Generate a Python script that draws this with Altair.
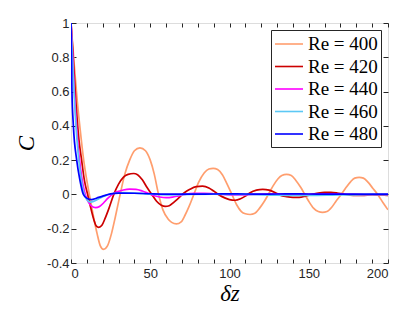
import altair as alt
import pandas as pd

# ---- data ----
labels = ["Re = 400", "Re = 420", "Re = 440", "Re = 460", "Re = 480"]
colors = ["#FF9E6E", "#CC0000", "#FF00FF", "#5CC8F5", "#0000FF"]

x400 = [0, 2, 4, 6, 8, 10, 12, 14, 16.5, 18.5, 20.5, 23, 25.5, 28, 31, 34, 37, 40, 43.5, 47, 50, 52.5,
        55, 58, 61, 63.5, 66.5, 69.5, 72, 74.5, 77.5, 80.5, 84, 87, 89.7, 92.5, 95.5, 98.5, 101.5,
        104.5, 107.5, 110, 113, 116, 119, 122, 124.5, 127.5, 130.5, 133, 136, 139, 142, 145, 147.5,
        150, 153, 156, 158.7, 161.5, 164.5, 167.5, 170.5, 173.5, 176.5, 179, 181.8, 184.5, 187.5,
        190.5, 193.5, 197, 200]
y400 = [1, 0.76, 0.54, 0.36, 0.2, 0.08, -0.02, -0.12, -0.23, -0.3, -0.32, -0.3, -0.23, -0.13, 0, 0.12,
        0.2, 0.255, 0.272, 0.255, 0.2, 0.12, 0.01, -0.09, -0.14, -0.163, -0.172, -0.16, -0.12, -0.07,
        0, 0.07, 0.125, 0.148, 0.152, 0.145, 0.115, 0.06, 0, -0.06, -0.1, -0.113, -0.117, -0.11,
        -0.08, -0.04, 0, 0.05, 0.09, 0.11, 0.117, 0.11, 0.08, 0.04, 0, -0.04, -0.08, -0.1, -0.105,
        -0.1, -0.075, -0.035, 0, 0.04, 0.075, 0.095, 0.1, 0.095, 0.07, 0.035, 0, -0.05, -0.09]

x420 = [0, 1, 3, 5, 6.7, 8.5, 10.5, 12.5, 14.5, 16, 17.5, 19.5, 21.5, 24, 27, 30, 33, 36, 39.5, 42, 45,
        48, 51, 54, 57, 59.5, 62, 65, 68, 71.5, 75, 79, 83, 87, 90, 93, 97, 100, 103.5, 107, 110, 113,
        117, 121, 125, 129, 132, 136, 140, 144, 148, 152, 156, 160, 164, 168, 172, 176, 180, 185, 190,
        195, 200]
y420 = [1, 0.86, 0.55, 0.32, 0.2, 0.08, 0, -0.08, -0.15, -0.185, -0.192, -0.18, -0.14, -0.08, 0, 0.06,
        0.1, 0.117, 0.122, 0.115, 0.085, 0.04, 0, -0.04, -0.063, -0.07, -0.066, -0.045, -0.02, 0.01,
        0.03, 0.045, 0.048, 0.038, 0.02, 0, -0.02, -0.03, -0.034, -0.025, -0.01, 0.01, 0.025, 0.03,
        0.025, 0.01, -0.005, -0.013, -0.017, -0.017, -0.01, 0, 0.008, 0.012, 0.012, 0.008, 0.001,
        -0.004, -0.006, -0.005, -0.003, -0.004, -0.005]

x440 = [0, 1, 2, 3, 4.5, 6, 7.5, 9, 11, 13, 15.5, 18, 20.5, 23, 26, 29, 33, 37, 41, 45, 49, 52, 56, 60,
        64, 68, 72, 78, 84, 90, 96, 102, 108, 115, 125, 135, 145, 155, 165, 175, 185, 200]
y440 = [1, 0.82, 0.62, 0.46, 0.28, 0.15, 0.06, 0, -0.045, -0.068, -0.077, -0.07, -0.05, -0.025, 0,
        0.015, 0.026, 0.031, 0.03, 0.02, 0.005, -0.006, -0.015, -0.019, -0.016, -0.008, 0, 0.006,
        0.007, 0.004, 0, -0.003, -0.003, 0, 0.002, 0.001, 0, 0.002, 0.004, 0.001, -0.002, -0.001]

x460 = [0, 1, 2, 3, 4.5, 6, 7.5, 9, 11, 12.5, 14.5, 17, 20, 24, 28, 33, 40, 48, 56, 65, 75, 90, 110,
        130, 150, 170, 185, 200]
y460 = [1, 0.78, 0.58, 0.42, 0.24, 0.12, 0.03, -0.015, -0.04, -0.045, -0.04, -0.028, -0.014, 0, 0.007,
        0.01, 0.008, 0.003, -0.002, -0.003, 0, 0.001, 0, -0.004, -0.006, -0.003, -0.002, -0.001]

x480 = [0, 0.6, 1.5, 3.6, 5.5, 7.8, 10, 13, 16, 20, 25, 30, 40, 50, 60, 80, 100, 120, 140, 160, 180, 200]
y480 = [1, 0.6, 0.4, 0.2, 0.09, 0, -0.022, -0.03, -0.022, -0.01, 0.003, 0.008, 0.007, 0.004, 0.002,
        0.002, 0.003, 0.002, 0.003, 0.002, 0.002, 0.002]

x_ticks = [0, 10, 20, 30, 40, 50, 60, 70, 80, 90, 100, 110, 120, 130, 140, 150, 160, 170, 180, 190, 200]
y_ticks = [-0.4, -0.2, 0, 0.2, 0.4, 0.6, 0.8, 1]
x_range = [0, 200]
y_range = [-0.4, 1]

# ---- tables ----
series = [(labels[0], x400, y400), (labels[1], x420, y420), (labels[2], x440, y440),
          (labels[3], x460, y460), (labels[4], x480, y480)]
rows = []
for lab, xs, ys in series:
    for xv, yv in zip(xs, ys):
        rows.append({"series": lab, "dz": xv, "C": yv})
df = pd.DataFrame(rows)

xscale = alt.Scale(domain=x_range, nice=False, zero=False)
yscale = alt.Scale(domain=y_range, nice=False, zero=False)

xaxis = alt.Axis(values=x_ticks, title="δz", domain=False, grid=False,
                 ticks=True, tickSize=4, offset=-4, tickColor="#262626", tickWidth=1,
                 labelExpr="datum.value % 50 == 0 ? format(datum.value, '~g') : ''",
                 labelFont="Liberation Sans", labelFontSize=13, labelColor="#262626",
                 labelPadding=4, labelOverlap=False,
                 titleFont="Liberation Serif", titleFontStyle="italic",
                 titleFontWeight="normal", titleFontSize=23, titleColor="#000000",
                 titlePadding=2)
yaxis = alt.Axis(values=y_ticks, title="C", domain=False, grid=False,
                 ticks=True, tickSize=5, offset=-5, tickColor="#262626", tickWidth=1,
                 labelExpr="replace(format(datum.value, '~g'), '\u2212', '-')",
                 labelFont="Liberation Sans", labelFontSize=13, labelColor="#262626",
                 labelPadding=2, labelOverlap=False,
                 titleFont="Liberation Serif", titleFontStyle="italic",
                 titleFontWeight="normal", titleFontSize=23, titleColor="#000000",
                 titlePadding=8)
xaxis_top = alt.Axis(orient="top", values=x_ticks, title=None, labels=False, domain=False,
                     grid=False, ticks=True, tickSize=4, offset=-4, tickColor="#262626",
                     tickWidth=1)
yaxis_right = alt.Axis(orient="right", values=y_ticks, title=None, labels=False, domain=False,
                       grid=False, ticks=True, tickSize=5, offset=-5, tickColor="#262626",
                       tickWidth=1)

lines = alt.Chart(df).mark_line(strokeWidth=1.7, interpolate="monotone", clip=True).encode(
    x=alt.X("dz:Q", scale=xscale, axis=xaxis, title="δz"),
    y=alt.Y("C:Q", scale=yscale, axis=yaxis, title="C"),
    color=alt.Color("series:N", scale=alt.Scale(domain=labels, range=colors),
                    legend=alt.Legend(title=None, orient="top-right", offset=7,
                                      strokeColor="#262626", fillColor="white", padding=3,
                                      symbolType="M-1.4,0L1.4,0", symbolSize=400,
                                      symbolStrokeWidth=1.6, symbolOffset=4,
                                      labelFont="Liberation Serif", labelFontSize=19,
                                      labelColor="#000000", rowPadding=1.5, labelOffset=8)),
)

frame = alt.Chart(df).mark_line(opacity=0).encode(
    x=alt.X("dz:Q", scale=xscale, axis=xaxis_top),
    y=alt.Y("C:Q", scale=yscale, axis=yaxis_right),
    detail="series:N",
)

chart = alt.layer(lines, frame).resolve_axis(x="independent", y="independent").properties(
    width=317, height=240,
    autosize=alt.AutoSizeParams(type="none"),
    padding={"left": 63, "top": 15, "right": 10, "bottom": 50},
).configure_view(stroke="#262626", strokeWidth=1.2).configure(background="white")

chart.save("out.html", embed_options={"renderer": "svg", "actions": False})
